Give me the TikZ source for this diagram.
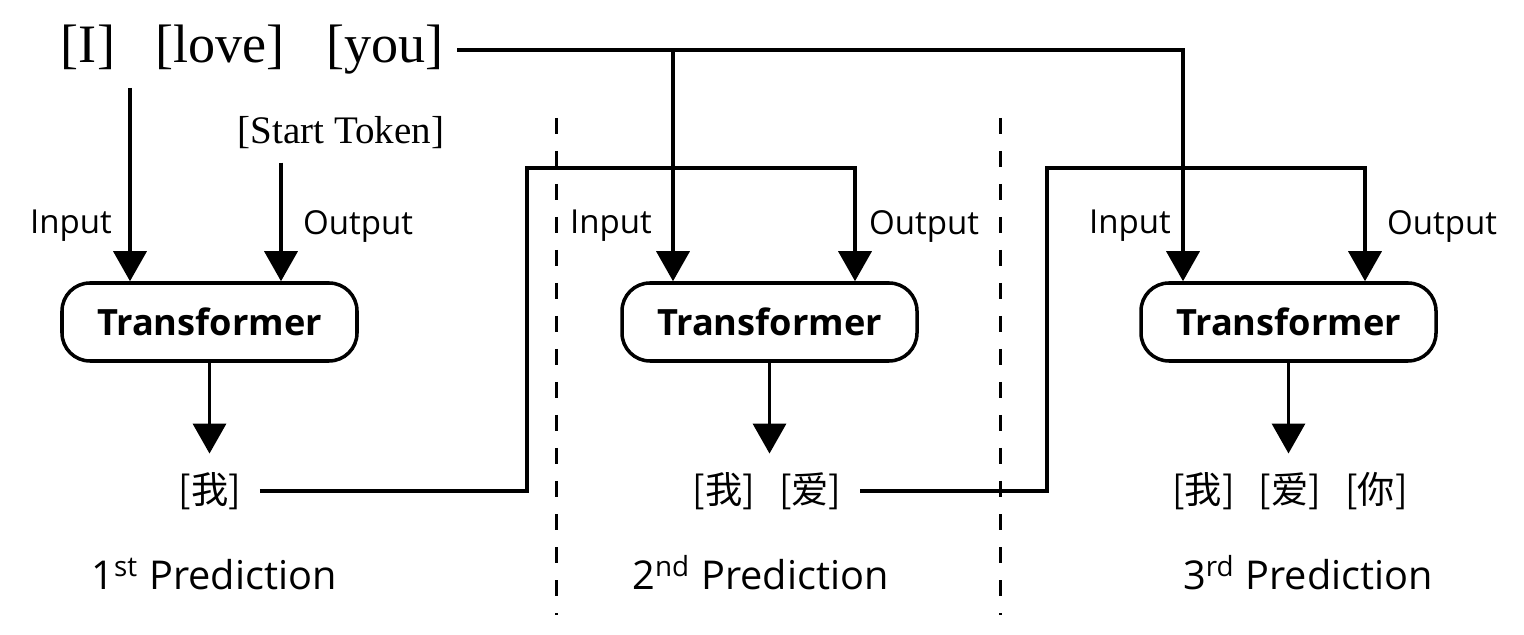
\documentclass[tikz,border=0pt]{standalone}
\usepackage{fontspec}
\setmainfont{Liberation Serif}
\setsansfont{Open Sans}
\newfontfamily\cjk{Noto Sans CJK SC}
\usetikzlibrary{arrows.meta}

\begin{document}
\begin{tikzpicture}[line width=1pt,
  pfeil/.style={-{Triangle[length=0.3cm,width=0.33cm]}},
  trafo/.style={draw, rounded corners=0.28cm, minimum width=2.95cm, minimum height=0.78cm,
    font=\sffamily\bfseries\fontsize{10.3}{12}\selectfont},
  wort/.style={font=\fontsize{15.4}{18}\selectfont, inner sep=0.12cm, anchor=base},
  lbl/.style={font=\sffamily\fontsize{9.4}{11}\selectfont, inner sep=0pt},
  tok/.style={font=\cjk\fontsize{10.6}{12}\selectfont, inner sep=0.17cm},
  pred/.style={font=\sffamily\fontsize{11.3}{13}\selectfont, inner sep=0pt, anchor=base},
  trenn/.style={line width=0.85pt, dash pattern=on 0.16cm off 0.17cm}]

\useasboundingbox (0,0) rectangle (15.24,6.35);

% Eingabesatz oben
\node[wort] (wI) at (0.88,5.72) {[I]};
\node[wort] (wlove) at (2.20,5.72) {[love]};
\node[wort] (wyou) at (3.85,5.72) {[you]};
\node[font=\fontsize{11.1}{13}\selectfont] (start) at (3.41,5.02) {[Start Token]};

% drei Transformer-Bloecke
\node[trafo] (tf1) at (2.095,3.13) {Transformer};
\node[trafo] (tf2) at (7.695,3.13) {Transformer};
\node[trafo] (tf3) at (12.885,3.13) {Transformer};

% Beschriftung der Eingaenge
\node[lbl] (in1) at (0.71,4.09) {Input};
\node[lbl] (ou1) at (3.58,4.09) {Output};
\node[lbl] (in2) at (6.11,4.09) {Input};
\node[lbl] (ou2) at (9.24,4.09) {Output};
\node[lbl] (in3) at (11.30,4.09) {Input};
\node[lbl] (ou3) at (14.42,4.09) {Output};

% Vorhersagen
\node[tok] (out1) at (2.10,1.44) {[我]};
\node[tok] (out2) at (7.67,1.44) {[我]\hspace{0.24cm}[爱]};
\node[tok] (out3) at (12.90,1.44) {[我]\hspace{0.24cm}[爱]\hspace{0.24cm}[你]};

\node[pred] (p1) at (2.14,0.45) {1\textsuperscript{st} Prediction};
\node[pred] (p2) at (7.605,0.45) {2\textsuperscript{nd} Prediction};
\node[pred] (p3) at (13.08,0.45) {3\textsuperscript{rd} Prediction};

% Hilfspunkte fuer die Leitungen
\coordinate (iI) at (1.30,5.47);
\coordinate (k1) at (5.27,4.67);
\coordinate (k2) at (10.47,4.67);

% Pfeile in den ersten Block
\draw[pfeil] (iI) -- (iI |- tf1.north);
\draw[pfeil] ([xshift=-0.6cm]start.south) -- ([xshift=0.715cm]tf1.north);

% Satz geht in Block 2 und 3
\draw[pfeil] (wyou.east) -| ([xshift=-1.055cm]tf3.north);
\draw[pfeil] ([xshift=-0.965cm]tf2.north |- wyou.east) -- ([xshift=-0.965cm]tf2.north);

% bisherige Ausgabe zurueck als Output
\draw[pfeil] (out1.east) -| (k1) -| ([xshift=0.855cm]tf2.north);
\draw[pfeil] (out2.east) -| (k2) -| ([xshift=0.765cm]tf3.north);

% Ausgaenge
\draw[pfeil] (tf1.south) -- (tf1.south |- out1.north);
\draw[pfeil] (tf2.south) -- (tf2.south |- out2.north);
\draw[pfeil] (tf3.south) -- (tf3.south |- out3.north);

% Trennlinien
\draw[trenn] (5.56,5.17) -- (5.56,0.20);
\draw[trenn] (10.00,5.17) -- (10.00,0.20);

\end{tikzpicture}
\end{document}
